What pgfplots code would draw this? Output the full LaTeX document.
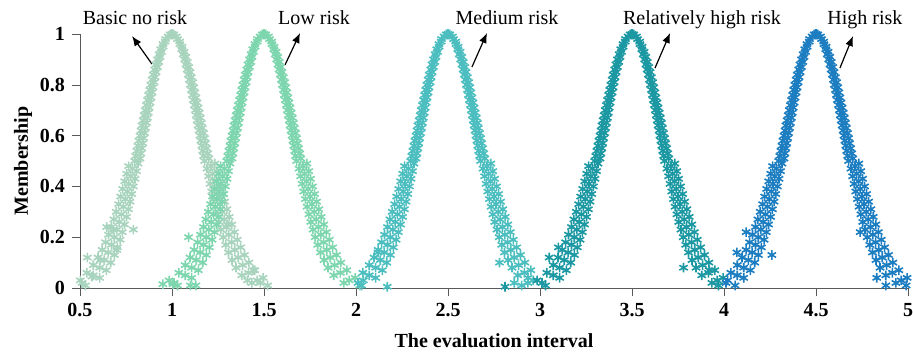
\documentclass[border=0pt]{standalone}
\usepackage{pgfplots}
\pgfplotsset{compat=1.18}
\usetikzlibrary{arrows.meta}
\usepackage{fontspec}
\setmainfont{Liberation Serif}
\definecolor{cA}{RGB}{168,212,190}
\definecolor{cB}{RGB}{126,214,174}
\definecolor{cC}{RGB}{76,190,192}
\definecolor{cD}{RGB}{28,152,163}
\definecolor{cE}{RGB}{28,125,192}
\begin{document}
\begin{tikzpicture}
\path[use as bounding box] (-40pt,-33.5pt) rectangle (416.5pt,144pt);
\begin{axis}[
  scale only axis, width=414pt, height=127pt,
  xmin=0.5, xmax=5, ymin=0, ymax=1,
  axis x line*=bottom, axis y line*=left,
  axis line style={draw=black!65,-},
  tick align=outside, major tick length=4pt,
  tick style={draw=black!65},
  xtick={0.5,1,1.5,2,2.5,3,3.5,4,4.5,5},
  ytick={0,0.2,0.4,0.6,0.8,1},
  tick label style={font=\bfseries},
  /pgf/number format/assume math mode=true,
  xlabel={\bfseries The evaluation interval},
  ylabel={\bfseries Membership},
  xlabel style={at={(axis description cs:0.5,-0.236)},anchor=base},
  ylabel style={at={(axis description cs:-0.0688,0.5)},anchor=center},
  clip=false,
  every axis plot/.append style={only marks, mark=asterisk, mark size=2.4pt, mark options={line width=0.8pt}},
]
% Basic no risk (Ex = 1)
\addplot[cA] coordinates {
(1,1)(0.99,0.998)(1.01,0.998)
(0.979,0.99)(0.965,0.98)(0.963,0.97)(0.951,0.96)(0.952,0.95)(0.939,0.94)(0.943,0.93)(0.930,0.92)(0.935,0.91)(0.921,0.90)(0.928,0.89)(0.913,0.88)(0.921,0.87)(0.906,0.86)(0.914,0.85)(0.898,0.84)(0.908,0.83)(0.892,0.82)(0.903,0.81)(0.885,0.80)(0.897,0.79)(0.879,0.78)(0.892,0.77)(0.873,0.76)(0.886,0.75)(0.867,0.74)(0.881,0.73)(0.861,0.72)(0.876,0.71)(0.855,0.70)(0.871,0.69)(0.849,0.68)(0.866,0.67)(0.843,0.66)(0.861,0.65)(0.837,0.64)(0.856,0.63)(0.832,0.62)(0.851,0.61)(0.826,0.60)(0.846,0.59)(0.820,0.58)(0.841,0.57)(0.815,0.56)(0.836,0.55)(0.809,0.54)(0.831,0.53)(0.803,0.52)(0.826,0.51)(0.797,0.50)
(0.815,0.49)(0.764,0.48)(0.785,0.47)(0.807,0.46)(0.754,0.45)(0.776,0.44)(0.799,0.43)(0.743,0.42)(0.766,0.41)(0.790,0.40)(0.732,0.39)(0.757,0.38)(0.781,0.37)(0.721,0.36)(0.746,0.35)(0.772,0.34)(0.710,0.33)(0.736,0.32)(0.763,0.31)(0.697,0.30)(0.725,0.29)(0.753,0.28)(0.684,0.27)(0.713,0.26)(0.742,0.25)(0.671,0.24)(0.700,0.23)(0.730,0.22)(0.655,0.21)(0.686,0.20)(0.718,0.19)(0.639,0.18)(0.671,0.17)(0.703,0.16)(0.620,0.15)(0.653,0.14)(0.687,0.13)(0.598,0.12)(0.632,0.11)(0.667,0.10)(0.572,0.09)(0.607,0.08)(0.643,0.07)(0.537,0.06)(0.572,0.05)(0.607,0.04)(0.502,0.03)(0.511,0.02)(0.530,0.01)
(0.54,0.12)(0.61,0.11)(0.645,0.24)(0.68,0.23)(0.70,0.15)(0.79,0.23)(0.565,0.045)
(1.024,0.99)(1.030,0.98)(1.042,0.97)(1.043,0.96)(1.055,0.95)(1.053,0.94)(1.066,0.93)(1.061,0.92)(1.075,0.91)(1.069,0.90)(1.083,0.89)(1.076,0.88)(1.091,0.87)(1.082,0.86)(1.098,0.85)(1.089,0.84)(1.105,0.83)(1.095,0.82)(1.112,0.81)(1.100,0.80)(1.118,0.79)(1.106,0.78)(1.124,0.77)(1.111,0.76)(1.130,0.75)(1.116,0.74)(1.136,0.73)(1.122,0.72)(1.142,0.71)(1.127,0.70)(1.148,0.69)(1.132,0.68)(1.154,0.67)(1.137,0.66)(1.160,0.65)(1.142,0.64)(1.165,0.63)(1.147,0.62)(1.171,0.61)(1.152,0.60)(1.177,0.59)(1.157,0.58)(1.182,0.57)(1.162,0.56)(1.188,0.55)(1.167,0.54)(1.194,0.53)(1.172,0.52)(1.200,0.51)(1.177,0.50)
(1.233,0.49)(1.212,0.48)(1.190,0.47)(1.243,0.46)(1.221,0.45)(1.199,0.44)(1.253,0.43)(1.231,0.42)(1.207,0.41)(1.264,0.40)(1.240,0.39)(1.216,0.38)(1.275,0.37)(1.250,0.36)(1.225,0.35)(1.286,0.34)(1.261,0.33)(1.234,0.32)(1.298,0.31)(1.272,0.30)(1.244,0.29)(1.311,0.28)(1.283,0.27)(1.254,0.26)(1.325,0.25)(1.296,0.24)(1.266,0.23)(1.339,0.22)(1.309,0.21)(1.278,0.20)(1.355,0.19)(1.324,0.18)(1.292,0.17)(1.373,0.16)(1.341,0.15)(1.307,0.14)(1.394,0.13)(1.360,0.12)(1.326,0.11)(1.418,0.10)(1.384,0.09)(1.348,0.08)(1.450,0.07)(1.415,0.06)(1.379,0.05)(1.495,0.04)(1.463,0.03)(1.434,0.02)(1.520,0.01)
(1.44,0.07)(1.48,0.02)(1.41,0.03)(1.30,0.25)
};
% Low risk (Ex = 1.5)
\addplot[cB] coordinates {
(1.5,1)(1.49,0.998)(1.51,0.998)
(1.479,0.99)(1.465,0.98)(1.463,0.97)(1.451,0.96)(1.452,0.95)(1.439,0.94)(1.443,0.93)(1.430,0.92)(1.435,0.91)(1.421,0.90)(1.428,0.89)(1.413,0.88)(1.421,0.87)(1.406,0.86)(1.414,0.85)(1.398,0.84)(1.408,0.83)(1.392,0.82)(1.403,0.81)(1.385,0.80)(1.397,0.79)(1.379,0.78)(1.392,0.77)(1.373,0.76)(1.386,0.75)(1.367,0.74)(1.381,0.73)(1.361,0.72)(1.376,0.71)(1.355,0.70)(1.371,0.69)(1.349,0.68)(1.366,0.67)(1.343,0.66)(1.361,0.65)(1.337,0.64)(1.356,0.63)(1.332,0.62)(1.351,0.61)(1.326,0.60)(1.346,0.59)(1.320,0.58)(1.341,0.57)(1.315,0.56)(1.336,0.55)(1.309,0.54)(1.331,0.53)(1.303,0.52)(1.326,0.51)(1.297,0.50)
(1.315,0.49)(1.264,0.48)(1.285,0.47)(1.307,0.46)(1.254,0.45)(1.276,0.44)(1.299,0.43)(1.243,0.42)(1.266,0.41)(1.290,0.40)(1.232,0.39)(1.257,0.38)(1.281,0.37)(1.221,0.36)(1.246,0.35)(1.272,0.34)(1.210,0.33)(1.236,0.32)(1.263,0.31)(1.197,0.30)(1.225,0.29)(1.253,0.28)(1.184,0.27)(1.213,0.26)(1.242,0.25)(1.171,0.24)(1.200,0.23)(1.230,0.22)(1.155,0.21)(1.186,0.20)(1.218,0.19)(1.139,0.18)(1.171,0.17)(1.203,0.16)(1.120,0.15)(1.153,0.14)(1.187,0.13)(1.098,0.12)(1.132,0.11)(1.167,0.10)(1.072,0.09)(1.107,0.08)(1.143,0.07)(1.037,0.06)(1.072,0.05)(1.107,0.04)(0.984,0.03)(1.011,0.02)(1.030,0.01)
(0.95,0.015)(1.005,0.015)(1.09,0.2)(1.10,0.01)(1.13,0.01)
(1.524,0.99)(1.530,0.98)(1.542,0.97)(1.543,0.96)(1.555,0.95)(1.553,0.94)(1.566,0.93)(1.561,0.92)(1.575,0.91)(1.569,0.90)(1.583,0.89)(1.576,0.88)(1.591,0.87)(1.582,0.86)(1.598,0.85)(1.589,0.84)(1.605,0.83)(1.595,0.82)(1.612,0.81)(1.600,0.80)(1.618,0.79)(1.606,0.78)(1.624,0.77)(1.611,0.76)(1.630,0.75)(1.616,0.74)(1.636,0.73)(1.622,0.72)(1.642,0.71)(1.627,0.70)(1.648,0.69)(1.632,0.68)(1.654,0.67)(1.637,0.66)(1.660,0.65)(1.642,0.64)(1.665,0.63)(1.647,0.62)(1.671,0.61)(1.652,0.60)(1.677,0.59)(1.657,0.58)(1.682,0.57)(1.662,0.56)(1.688,0.55)(1.667,0.54)(1.694,0.53)(1.672,0.52)(1.700,0.51)(1.677,0.50)
(1.733,0.49)(1.712,0.48)(1.690,0.47)(1.743,0.46)(1.721,0.45)(1.699,0.44)(1.753,0.43)(1.731,0.42)(1.707,0.41)(1.764,0.40)(1.740,0.39)(1.716,0.38)(1.775,0.37)(1.750,0.36)(1.725,0.35)(1.786,0.34)(1.761,0.33)(1.734,0.32)(1.798,0.31)(1.772,0.30)(1.744,0.29)(1.811,0.28)(1.783,0.27)(1.754,0.26)(1.825,0.25)(1.796,0.24)(1.766,0.23)(1.839,0.22)(1.809,0.21)(1.778,0.20)(1.855,0.19)(1.824,0.18)(1.792,0.17)(1.873,0.16)(1.841,0.15)(1.807,0.14)(1.894,0.13)(1.860,0.12)(1.826,0.11)(1.918,0.10)(1.884,0.09)(1.848,0.08)(1.950,0.07)(1.915,0.06)(1.879,0.05)(1.995,0.04)(1.963,0.03)(1.934,0.02)(2.020,0.01)
};
% Medium risk (Ex = 2.5)
\addplot[cC] coordinates {
(2.5,1)(2.49,0.998)(2.51,0.998)
(2.479,0.99)(2.465,0.98)(2.463,0.97)(2.451,0.96)(2.452,0.95)(2.439,0.94)(2.443,0.93)(2.430,0.92)(2.435,0.91)(2.421,0.90)(2.428,0.89)(2.413,0.88)(2.421,0.87)(2.406,0.86)(2.414,0.85)(2.398,0.84)(2.408,0.83)(2.392,0.82)(2.403,0.81)(2.385,0.80)(2.397,0.79)(2.379,0.78)(2.392,0.77)(2.373,0.76)(2.386,0.75)(2.367,0.74)(2.381,0.73)(2.361,0.72)(2.376,0.71)(2.355,0.70)(2.371,0.69)(2.349,0.68)(2.366,0.67)(2.343,0.66)(2.361,0.65)(2.337,0.64)(2.356,0.63)(2.332,0.62)(2.351,0.61)(2.326,0.60)(2.346,0.59)(2.320,0.58)(2.341,0.57)(2.315,0.56)(2.336,0.55)(2.309,0.54)(2.331,0.53)(2.303,0.52)(2.326,0.51)(2.297,0.50)
(2.315,0.49)(2.264,0.48)(2.285,0.47)(2.307,0.46)(2.254,0.45)(2.276,0.44)(2.299,0.43)(2.243,0.42)(2.266,0.41)(2.290,0.40)(2.232,0.39)(2.257,0.38)(2.281,0.37)(2.221,0.36)(2.246,0.35)(2.272,0.34)(2.210,0.33)(2.236,0.32)(2.263,0.31)(2.197,0.30)(2.225,0.29)(2.253,0.28)(2.184,0.27)(2.213,0.26)(2.242,0.25)(2.171,0.24)(2.200,0.23)(2.230,0.22)(2.155,0.21)(2.186,0.20)(2.218,0.19)(2.139,0.18)(2.171,0.17)(2.203,0.16)(2.120,0.15)(2.153,0.14)(2.187,0.13)(2.098,0.12)(2.132,0.11)(2.167,0.10)(2.072,0.09)(2.107,0.08)(2.143,0.07)(2.037,0.06)(2.072,0.05)(2.107,0.04)(2.040,0.03)(2.011,0.02)(2.030,0.01)
(2.17,0.005)(2.12,0.14)
(2.524,0.99)(2.530,0.98)(2.542,0.97)(2.543,0.96)(2.555,0.95)(2.553,0.94)(2.566,0.93)(2.561,0.92)(2.575,0.91)(2.569,0.90)(2.583,0.89)(2.576,0.88)(2.591,0.87)(2.582,0.86)(2.598,0.85)(2.589,0.84)(2.605,0.83)(2.595,0.82)(2.612,0.81)(2.600,0.80)(2.618,0.79)(2.606,0.78)(2.624,0.77)(2.611,0.76)(2.630,0.75)(2.616,0.74)(2.636,0.73)(2.622,0.72)(2.642,0.71)(2.627,0.70)(2.648,0.69)(2.632,0.68)(2.654,0.67)(2.637,0.66)(2.660,0.65)(2.642,0.64)(2.665,0.63)(2.647,0.62)(2.671,0.61)(2.652,0.60)(2.677,0.59)(2.657,0.58)(2.682,0.57)(2.662,0.56)(2.688,0.55)(2.667,0.54)(2.694,0.53)(2.672,0.52)(2.700,0.51)(2.677,0.50)
(2.733,0.49)(2.712,0.48)(2.690,0.47)(2.743,0.46)(2.721,0.45)(2.699,0.44)(2.753,0.43)(2.731,0.42)(2.707,0.41)(2.764,0.40)(2.740,0.39)(2.716,0.38)(2.775,0.37)(2.750,0.36)(2.725,0.35)(2.786,0.34)(2.761,0.33)(2.734,0.32)(2.798,0.31)(2.772,0.30)(2.744,0.29)(2.811,0.28)(2.783,0.27)(2.754,0.26)(2.825,0.25)(2.796,0.24)(2.766,0.23)(2.839,0.22)(2.809,0.21)(2.778,0.20)(2.855,0.19)(2.824,0.18)(2.792,0.17)(2.873,0.16)(2.841,0.15)(2.807,0.14)(2.894,0.13)(2.860,0.12)(2.826,0.11)(2.918,0.10)(2.884,0.09)(2.848,0.08)(2.950,0.07)(2.915,0.06)(2.879,0.05)(2.935,0.04)(2.963,0.03)(2.934,0.02)(2.900,0.01)
(2.78,0.10)(2.86,0.02)
};
% Relatively high risk (Ex = 3.5)
\addplot[cD] coordinates {
(3.5,1)(3.49,0.998)(3.51,0.998)
(3.479,0.99)(3.465,0.98)(3.463,0.97)(3.451,0.96)(3.452,0.95)(3.439,0.94)(3.443,0.93)(3.430,0.92)(3.435,0.91)(3.421,0.90)(3.428,0.89)(3.413,0.88)(3.421,0.87)(3.406,0.86)(3.414,0.85)(3.398,0.84)(3.408,0.83)(3.392,0.82)(3.403,0.81)(3.385,0.80)(3.397,0.79)(3.379,0.78)(3.392,0.77)(3.373,0.76)(3.386,0.75)(3.367,0.74)(3.381,0.73)(3.361,0.72)(3.376,0.71)(3.355,0.70)(3.371,0.69)(3.349,0.68)(3.366,0.67)(3.343,0.66)(3.361,0.65)(3.337,0.64)(3.356,0.63)(3.332,0.62)(3.351,0.61)(3.326,0.60)(3.346,0.59)(3.320,0.58)(3.341,0.57)(3.315,0.56)(3.336,0.55)(3.309,0.54)(3.331,0.53)(3.303,0.52)(3.326,0.51)(3.297,0.50)
(3.315,0.49)(3.264,0.48)(3.285,0.47)(3.307,0.46)(3.254,0.45)(3.276,0.44)(3.299,0.43)(3.243,0.42)(3.266,0.41)(3.290,0.40)(3.232,0.39)(3.257,0.38)(3.281,0.37)(3.221,0.36)(3.246,0.35)(3.272,0.34)(3.210,0.33)(3.236,0.32)(3.263,0.31)(3.197,0.30)(3.225,0.29)(3.253,0.28)(3.184,0.27)(3.213,0.26)(3.242,0.25)(3.171,0.24)(3.200,0.23)(3.230,0.22)(3.155,0.21)(3.186,0.20)(3.218,0.19)(3.139,0.18)(3.171,0.17)(3.203,0.16)(3.120,0.15)(3.153,0.14)(3.187,0.13)(3.098,0.12)(3.132,0.11)(3.167,0.10)(3.072,0.09)(3.107,0.08)(3.143,0.07)(3.037,0.06)(3.072,0.05)(3.107,0.04)(2.984,0.03)(3.011,0.02)(3.030,0.01)
(2.81,0.005)(3.05,0.12)(3.10,0.16)
(3.524,0.99)(3.530,0.98)(3.542,0.97)(3.543,0.96)(3.555,0.95)(3.553,0.94)(3.566,0.93)(3.561,0.92)(3.575,0.91)(3.569,0.90)(3.583,0.89)(3.576,0.88)(3.591,0.87)(3.582,0.86)(3.598,0.85)(3.589,0.84)(3.605,0.83)(3.595,0.82)(3.612,0.81)(3.600,0.80)(3.618,0.79)(3.606,0.78)(3.624,0.77)(3.611,0.76)(3.630,0.75)(3.616,0.74)(3.636,0.73)(3.622,0.72)(3.642,0.71)(3.627,0.70)(3.648,0.69)(3.632,0.68)(3.654,0.67)(3.637,0.66)(3.660,0.65)(3.642,0.64)(3.665,0.63)(3.647,0.62)(3.671,0.61)(3.652,0.60)(3.677,0.59)(3.657,0.58)(3.682,0.57)(3.662,0.56)(3.688,0.55)(3.667,0.54)(3.694,0.53)(3.672,0.52)(3.700,0.51)(3.677,0.50)
(3.733,0.49)(3.712,0.48)(3.690,0.47)(3.743,0.46)(3.721,0.45)(3.699,0.44)(3.753,0.43)(3.731,0.42)(3.707,0.41)(3.764,0.40)(3.740,0.39)(3.716,0.38)(3.775,0.37)(3.750,0.36)(3.725,0.35)(3.786,0.34)(3.761,0.33)(3.734,0.32)(3.798,0.31)(3.772,0.30)(3.744,0.29)(3.811,0.28)(3.783,0.27)(3.754,0.26)(3.825,0.25)(3.796,0.24)(3.766,0.23)(3.839,0.22)(3.809,0.21)(3.778,0.20)(3.855,0.19)(3.824,0.18)(3.792,0.17)(3.873,0.16)(3.841,0.15)(3.807,0.14)(3.894,0.13)(3.860,0.12)(3.826,0.11)(3.918,0.10)(3.884,0.09)(3.848,0.08)(3.950,0.07)(3.915,0.06)(3.879,0.05)(3.995,0.04)(3.963,0.03)(3.934,0.02)(3.970,0.01)
(3.78,0.08)(3.92,0.07)
};
% High risk (Ex = 4.5)
\addplot[cE] coordinates {
(4.5,1)(4.49,0.998)(4.51,0.998)
(4.479,0.99)(4.465,0.98)(4.463,0.97)(4.451,0.96)(4.452,0.95)(4.439,0.94)(4.443,0.93)(4.430,0.92)(4.435,0.91)(4.421,0.90)(4.428,0.89)(4.413,0.88)(4.421,0.87)(4.406,0.86)(4.414,0.85)(4.398,0.84)(4.408,0.83)(4.392,0.82)(4.403,0.81)(4.385,0.80)(4.397,0.79)(4.379,0.78)(4.392,0.77)(4.373,0.76)(4.386,0.75)(4.367,0.74)(4.381,0.73)(4.361,0.72)(4.376,0.71)(4.355,0.70)(4.371,0.69)(4.349,0.68)(4.366,0.67)(4.343,0.66)(4.361,0.65)(4.337,0.64)(4.356,0.63)(4.332,0.62)(4.351,0.61)(4.326,0.60)(4.346,0.59)(4.320,0.58)(4.341,0.57)(4.315,0.56)(4.336,0.55)(4.309,0.54)(4.331,0.53)(4.303,0.52)(4.326,0.51)(4.297,0.50)
(4.315,0.49)(4.264,0.48)(4.285,0.47)(4.307,0.46)(4.254,0.45)(4.276,0.44)(4.299,0.43)(4.243,0.42)(4.266,0.41)(4.290,0.40)(4.232,0.39)(4.257,0.38)(4.281,0.37)(4.221,0.36)(4.246,0.35)(4.272,0.34)(4.210,0.33)(4.236,0.32)(4.263,0.31)(4.197,0.30)(4.225,0.29)(4.253,0.28)(4.184,0.27)(4.213,0.26)(4.242,0.25)(4.171,0.24)(4.200,0.23)(4.230,0.22)(4.155,0.21)(4.186,0.20)(4.218,0.19)(4.139,0.18)(4.171,0.17)(4.203,0.16)(4.120,0.15)(4.153,0.14)(4.187,0.13)(4.098,0.12)(4.132,0.11)(4.167,0.10)(4.072,0.09)(4.107,0.08)(4.143,0.07)(4.037,0.06)(4.072,0.05)(4.107,0.04)(4.020,0.03)(4.011,0.02)(4.060,0.01)
(4.07,0.14)(4.12,0.22)(4.26,0.13)
(4.524,0.99)(4.530,0.98)(4.542,0.97)(4.543,0.96)(4.555,0.95)(4.553,0.94)(4.566,0.93)(4.561,0.92)(4.575,0.91)(4.569,0.90)(4.583,0.89)(4.576,0.88)(4.591,0.87)(4.582,0.86)(4.598,0.85)(4.589,0.84)(4.605,0.83)(4.595,0.82)(4.612,0.81)(4.600,0.80)(4.618,0.79)(4.606,0.78)(4.624,0.77)(4.611,0.76)(4.630,0.75)(4.616,0.74)(4.636,0.73)(4.622,0.72)(4.642,0.71)(4.627,0.70)(4.648,0.69)(4.632,0.68)(4.654,0.67)(4.637,0.66)(4.660,0.65)(4.642,0.64)(4.665,0.63)(4.647,0.62)(4.671,0.61)(4.652,0.60)(4.677,0.59)(4.657,0.58)(4.682,0.57)(4.662,0.56)(4.688,0.55)(4.667,0.54)(4.694,0.53)(4.672,0.52)(4.700,0.51)(4.677,0.50)
(4.733,0.49)(4.712,0.48)(4.690,0.47)(4.743,0.46)(4.721,0.45)(4.699,0.44)(4.753,0.43)(4.731,0.42)(4.707,0.41)(4.764,0.40)(4.740,0.39)(4.716,0.38)(4.775,0.37)(4.750,0.36)(4.725,0.35)(4.786,0.34)(4.761,0.33)(4.734,0.32)(4.798,0.31)(4.772,0.30)(4.744,0.29)(4.811,0.28)(4.783,0.27)(4.754,0.26)(4.825,0.25)(4.796,0.24)(4.766,0.23)(4.839,0.22)(4.809,0.21)(4.778,0.20)(4.855,0.19)(4.824,0.18)(4.792,0.17)(4.873,0.16)(4.841,0.15)(4.807,0.14)(4.894,0.13)(4.860,0.12)(4.826,0.11)(4.918,0.10)(4.884,0.09)(4.848,0.08)(4.950,0.07)(4.915,0.06)(4.879,0.05)(4.995,0.04)(4.963,0.03)(4.934,0.02)(4.990,0.01)
(4.83,0.04)(4.74,0.22)(4.88,0.01)
};
% annotations
\node[anchor=base] at (axis cs:0.799,1.039) {Basic no risk};
\node[anchor=base] at (axis cs:1.772,1.039) {Low risk};
\node[anchor=base] at (axis cs:2.821,1.039) {Medium risk};
\node[anchor=base] at (axis cs:3.880,1.039) {Relatively high risk};
\node[anchor=base] at (axis cs:4.766,1.039) {High risk};
\draw[-{Latex[length=5pt,width=4pt]}, line width=0.6pt] (axis cs:0.891,0.882) -- (axis cs:0.783,0.992);
\draw[-{Latex[length=5pt,width=4pt]}, line width=0.6pt] (axis cs:1.614,0.878) -- (axis cs:1.696,1.004);
\draw[-{Latex[length=5pt,width=4pt]}, line width=0.6pt] (axis cs:2.630,0.870) -- (axis cs:2.712,1.004);
\draw[-{Latex[length=5pt,width=4pt]}, line width=0.6pt] (axis cs:3.625,0.866) -- (axis cs:3.707,1.004);
\draw[-{Latex[length=5pt,width=4pt]}, line width=0.6pt] (axis cs:4.630,0.866) -- (axis cs:4.701,0.992);
\end{axis}
\end{tikzpicture}
\end{document}
